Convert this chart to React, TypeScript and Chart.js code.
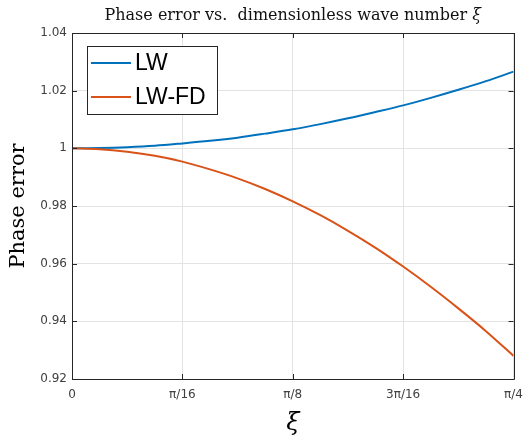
import React, { useEffect, useRef } from 'react';
import { Chart, registerables } from 'chart.js';

Chart.register(...registerables);

// ξ sample positions (radians), steps of π/64 from 0 to π/4
const xValues = [
  0, 0.0491, 0.0982, 0.1473, 0.1963, 0.2454, 0.2945, 0.3436, 0.3927,
  0.4418, 0.4909, 0.54, 0.589, 0.6381, 0.6872, 0.7363, 0.7854,
];
const lwValues = [
  1.0, 1.0001, 1.0004, 1.0009, 1.0017, 1.0026, 1.0037, 1.0051, 1.0066,
  1.0084, 1.0104, 1.0126, 1.0149, 1.0175, 1.0203, 1.0233, 1.0266,
];
const lwfdValues = [
  1.0, 0.9997, 0.9988, 0.9974, 0.9954, 0.9927, 0.9896, 0.9859, 0.9816,
  0.9768, 0.9714, 0.9655, 0.959, 0.952, 0.9445, 0.9366, 0.928,
];
const seriesLabels = ['LW', 'LW-FD'];
const xTickValues = [0, 0.19635, 0.3927, 0.58905, 0.7854];
const xTickLabels = ['0', 'π/16', 'π/8', '3π/16', 'π/4'];
const yMin = 0.92;
const yMax = 1.04;
const yStep = 0.02;

const titleMain = 'Phase error vs.  dimensionless wave number ';
const titleSym = 'ξ';
const yTitle = 'Phase error';
const xTitle = 'ξ';

const BLUE = '#0072BD';
const ORANGE = '#D95319';
const AXIS = '#262626';

const decorPlugin = {
  id: 'decor',
  afterDatasetsDraw(chart: any) {
    const ctx = chart.ctx as CanvasRenderingContext2D;
    const { left, right, top, bottom } = chart.chartArea;
    const xs = chart.scales.x;
    const ys = chart.scales.y;
    ctx.save();
    // box
    ctx.strokeStyle = AXIS;
    ctx.lineWidth = 1;
    ctx.beginPath();
    ctx.rect(Math.round(left) + 0.5, Math.round(top) + 0.5, Math.round(right - left), Math.round(bottom - top));
    ctx.stroke();
    // inward ticks
    const tl = 5;
    ctx.beginPath();
    xs.ticks.forEach((t: any) => {
      const px = Math.round(xs.getPixelForValue(t.value)) + 0.5;
      ctx.moveTo(px, bottom);
      ctx.lineTo(px, bottom - tl);
      ctx.moveTo(px, top);
      ctx.lineTo(px, top + tl);
    });
    ys.ticks.forEach((t: any) => {
      const py = Math.round(ys.getPixelForValue(t.value)) + 0.5;
      ctx.moveTo(left, py);
      ctx.lineTo(left + tl, py);
      ctx.moveTo(right, py);
      ctx.lineTo(right - tl, py);
    });
    ctx.stroke();

    // legend
    const lx = Math.round(left) + 15;
    const ly = Math.round(top) + 13;
    const lw = 130;
    const lh = 68;
    ctx.fillStyle = '#ffffff';
    ctx.fillRect(lx, ly, lw, lh);
    ctx.strokeStyle = AXIS;
    ctx.lineWidth = 1;
    ctx.strokeRect(lx + 0.5, ly + 0.5, lw, lh);
    const colors = [BLUE, ORANGE];
    ctx.font = '23px "Liberation Sans", Arial, sans-serif';
    ctx.textBaseline = 'middle';
    ctx.textAlign = 'left';
    chart.data.datasets.forEach((ds: any, i: number) => {
      const yy = ly + 17 + i * 34;
      ctx.strokeStyle = colors[i];
      ctx.lineWidth = 2;
      ctx.beginPath();
      ctx.moveTo(lx + 4, yy);
      ctx.lineTo(lx + 44, yy);
      ctx.stroke();
      ctx.fillStyle = '#000000';
      ctx.fillText(ds.label, lx + 48, yy + 1);
    });

    // title
    const cx = (left + right) / 2;
    ctx.fillStyle = '#111111';
    ctx.textBaseline = 'alphabetic';
    const fMain = '16px "DejaVu Serif", serif';
    const fSym = 'italic 16px "DejaVu Serif", serif';
    ctx.font = fMain;
    const w1 = ctx.measureText(titleMain).width;
    ctx.font = fSym;
    const w2 = ctx.measureText(titleSym).width;
    const sx = cx - (w1 + w2) / 2;
    ctx.font = fMain;
    ctx.fillText(titleMain, sx, 20);
    ctx.font = fSym;
    ctx.fillText(titleSym, sx + w1, 20);
    ctx.restore();
  },
};

export default function App() {
  const ref = useRef<HTMLCanvasElement | null>(null);
  useEffect(() => {
    if (!ref.current) return;
    const chart = new Chart(ref.current, {
      type: 'line',
      data: {
        datasets: [
          {
            label: seriesLabels[0],
            data: xValues.map((x, i) => ({ x, y: lwValues[i] })),
            borderColor: BLUE,
            backgroundColor: BLUE,
            borderWidth: 2,
            pointRadius: 0,
            cubicInterpolationMode: 'monotone',
            order: 1,
          },
          {
            label: seriesLabels[1],
            data: xValues.map((x, i) => ({ x, y: lwfdValues[i] })),
            borderColor: ORANGE,
            backgroundColor: ORANGE,
            borderWidth: 2,
            pointRadius: 0,
            cubicInterpolationMode: 'monotone',
            order: 0,
          },
        ],
      },
      options: {
        responsive: false,
        animation: false,
        devicePixelRatio: 1,
        layout: { padding: { top: 33, right: 11, bottom: 0, left: 0 } },
        plugins: {
          legend: { display: false },
          title: { display: false },
          tooltip: { enabled: false },
        },
        scales: {
          x: {
            type: 'linear',
            min: xTickValues[0],
            max: xTickValues[xTickValues.length - 1],
            afterBuildTicks: (scale: any) => {
              scale.ticks = xTickValues.map((v) => ({ value: v }));
            },
            afterFit: (scale: any) => {
              scale.height = 60;
            },
            ticks: {
              autoSkip: false,
              maxRotation: 0,
              padding: 9,
              color: '#404040',
              font: { family: '"DejaVu Sans", sans-serif', size: 12 },
              callback: (_v: any, i: number) => xTickLabels[i],
            },
            grid: { color: '#e3e3e3', drawTicks: false, lineWidth: 1 },
            border: { display: false },
            title: {
              display: true,
              text: xTitle,
              color: '#000000',
              font: { family: '"DejaVu Serif", serif', size: 24, style: 'italic' },
              padding: { top: 0, bottom: 1 },
            },
          },
          y: {
            type: 'linear',
            min: yMin,
            max: yMax,
            afterFit: (scale: any) => {
              scale.width = 72;
            },
            ticks: {
              stepSize: yStep,
              padding: 5,
              color: '#404040',
              font: { family: '"DejaVu Sans", sans-serif', size: 12 },
              callback: (v: any) => String(Number(Number(v).toFixed(2))),
            },
            grid: { color: '#e3e3e3', drawTicks: false, lineWidth: 1 },
            border: { display: false },
            title: {
              display: true,
              text: yTitle,
              color: '#000000',
              font: { family: '"DejaVu Serif", serif', size: 21 },
              padding: { top: 6, bottom: 0 },
            },
          },
        },
      },
      plugins: [decorPlugin],
    } as any);
    return () => chart.destroy();
  }, []);
  return (
    <div style={{ position: 'fixed', left: 0, top: 0, width: 532, height: 439, background: '#ffffff' }}>
      <canvas ref={ref} width={532} height={439} style={{ width: 532, height: 439, display: 'block' }} />
    </div>
  );
}
